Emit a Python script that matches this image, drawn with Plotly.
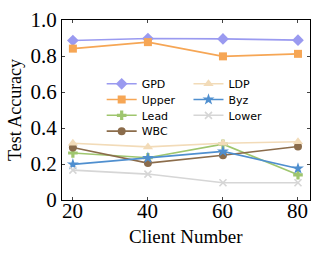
import plotly.graph_objects as go

clients = [20, 40, 60, 80]
gpd = [0.886, 0.897, 0.895, 0.888]
upper = [0.841, 0.877, 0.798, 0.812]
lead = [0.261, 0.235, 0.310, 0.140]
wbc = [0.292, 0.205, 0.249, 0.297]
ldp = [0.315, 0.295, 0.315, 0.324]
byz = [0.198, 0.234, 0.270, 0.175]
lower = [0.166, 0.144, 0.096, 0.096]

y_ticks = [0, 0.2, 0.4, 0.6, 0.8, 1.0]
y_tick_labels = ["0", "0.2", "0.4", "0.6", "0.8", "1.0"]
x_ticks = [20, 40, 60, 80]
x_tick_labels = ["20", "40", "60", "80"]

# name, values, colour, symbol, size, legend id
series = [
    ("GPD", gpd, "#9a9af0", "diamond", 9, "legend"),
    ("Upper", upper, "#f6a655", "square", 8, "legend2"),
    ("Lead", lead, "#9fc66e", "cross", 8, "legend3"),
    ("WBC", wbc, "#8b6c4b", "circle", 8, "legend4"),
    ("LDP", ldp, "#f2dbb8", "triangle-up", 9, "legend5"),
    ("Byz", byz, "#4f8fcf", "star", 9, "legend6"),
    ("Lower", lower, "#d6d6d6", "x-thin", 7, "legend7"),
]

fig = go.Figure()
for name, vals, color, sym, size, leg in series:
    marker = dict(symbol=sym, size=size, color=color)
    if sym == "x-thin":
        marker["line"] = dict(color=color, width=1.6)
    else:
        marker["line"] = dict(width=0)
    fig.add_trace(go.Scatter(
        x=clients, y=vals, name=name, mode="lines+markers",
        line=dict(color=color, width=1.6), marker=marker, legend=leg,
    ))

def leg(x, y):
    return dict(
        x=x, y=y, font=dict(family="DejaVu Sans", size=11, color="black"),
        bgcolor="rgba(0,0,0,0)", borderwidth=0,
        xanchor="left", yanchor="top", itemwidth=30,
    )

serif = "Liberation Serif"
annotations = [dict(
    text="Client Number", xref="paper", yref="paper", x=0.5, y=-0.203,
    xanchor="center", yanchor="middle", showarrow=False,
    font=dict(family=serif, size=19, color="black"),
)]
for v, t in zip(x_ticks, x_tick_labels):
    annotations.append(dict(
        text=t, xref="x", yref="paper", x=v, y=-0.06,
        xanchor="center", yanchor="middle", showarrow=False,
        font=dict(family=serif, size=21, color="black"),
    ))

col1, col2 = 0.16, 0.51
rows = [0.726, 0.639, 0.551, 0.463]
fig.update_layout(
    width=319, height=255,
    margin=dict(l=62, r=8, t=15, b=55),
    paper_bgcolor="white", plot_bgcolor="white",
    font=dict(family=serif, color="black"),
    legend=leg(col1, rows[0]),
    legend2=leg(col1, rows[1]),
    legend3=leg(col1, rows[2]),
    legend4=leg(col1, rows[3]),
    legend5=leg(col2, rows[0]),
    legend6=leg(col2, rows[1]),
    legend7=leg(col2, rows[2]),
    showlegend=True,
    annotations=annotations,
)
fig.update_xaxes(
    range=[17.1, 83.2], tickvals=x_ticks, ticks="inside", ticklen=3,
    showticklabels=False,
    showline=True, linecolor="black", linewidth=1.2, mirror="ticks",
    showgrid=False, zeroline=False,
)
fig.update_yaxes(
    range=[0, 1.0], tickvals=y_ticks, ticktext=y_tick_labels, ticks="inside", ticklen=3,
    showline=True, linecolor="black", linewidth=1.2, mirror="ticks",
    showgrid=False, zeroline=False,
    tickfont=dict(family=serif, size=21, color="black"),
    title=dict(text="Test Accuracy", font=dict(family=serif, size=18, color="black"), standoff=4),
)
fig.write_html("out.html", config={"displayModeBar": False},
               post_script="document.body.style.margin='0';document.body.style.overflow='hidden';")
